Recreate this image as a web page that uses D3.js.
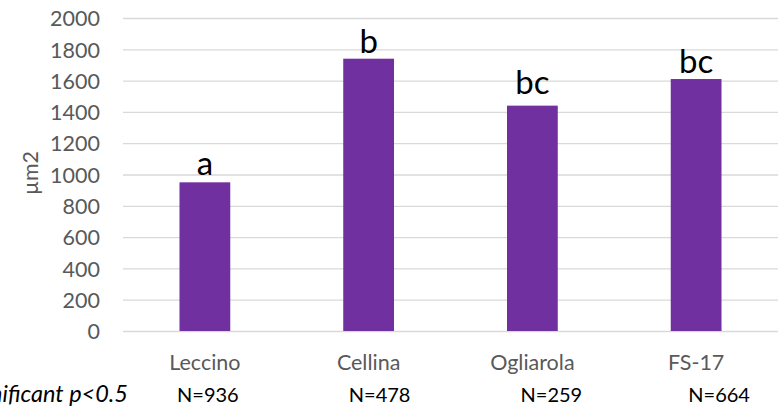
<!DOCTYPE html>
<html>
<head>
<meta charset="utf-8">
<script src="https://cdn.jsdelivr.net/npm/d3@7"></script>
<style>
  html, body { margin: 0; padding: 0; background: #fff; }
  svg { display: block; }
  text { font-family: Lato, "Open Sans", sans-serif; }
</style>
</head>
<body>
<svg id="chart" width="781" height="406"></svg>
<script>
// Mean leaf-cell area per cultivar
const cultivars = ["Leccino", "Cellina", "Ogliarola", "FS-17"];
const areas = [950, 1740, 1440, 1610];
const groupLetters = ["a", "b", "bc", "bc"];
const sampleSizes = ["N=936", "N=478", "N=259", "N=664"];
const yTicks = [0, 200, 400, 600, 800, 1000, 1200, 1400, 1600, 1800, 2000];
const yTitle = "µm2";
const footnote = "Different letters: significant p<0.5";

const plot = { left: 123, right: 778, top: 18, bottom: 331 };
const axisFont = "21.5px";

const svg = d3.select("#chart");

const x = d3.scaleBand()
  .domain(cultivars)
  .range([plot.left, plot.right])
  .paddingInner(0.69)
  .paddingOuter(0.345);

const y = d3.scaleLinear()
  .domain([0, 2000])
  .range([plot.bottom, plot.top]);

// Horizontal gridlines
svg.append("g")
  .selectAll("line")
  .data(yTicks)
  .join("line")
  .attr("x1", plot.left)
  .attr("x2", plot.right)
  .attr("y1", d => y(d) + 0.5)
  .attr("y2", d => y(d) + 0.5)
  .attr("stroke", "#d9d9d9")
  .attr("stroke-width", 1.3);

// Y axis labels
const yAxis = d3.axisLeft(y)
  .tickValues(yTicks)
  .tickFormat(d3.format("d"))
  .tickSize(0)
  .tickPadding(0);
const gy = svg.append("g")
  .attr("transform", `translate(100,0)`)
  .call(yAxis);
gy.select(".domain").remove();
gy.selectAll("text")
  .attr("fill", "#595959")
  .style("font-size", axisFont)
  .style("font-family", "Lato, sans-serif")
  .attr("dy", "0.36em");

// Y axis title
svg.append("text")
  .attr("transform", `translate(38,173) rotate(-90)`)
  .attr("text-anchor", "middle")
  .attr("fill", "#595959")
  .style("font-size", axisFont)
  .text(yTitle);

// Bars
svg.append("g")
  .selectAll("rect")
  .data(cultivars)
  .join("rect")
  .attr("x", d => x(d))
  .attr("width", x.bandwidth())
  .attr("y", (d, i) => y(areas[i]))
  .attr("height", (d, i) => y(0) - y(areas[i]))
  .attr("fill", "#7030a0");

// Significance letters above bars
const lift = [7, 6, 12, 6];
svg.append("g")
  .selectAll("text")
  .data(cultivars)
  .join("text")
  .attr("x", d => x(d) + x.bandwidth() / 2)
  .attr("y", (d, i) => y(areas[i]) - lift[i])
  .attr("text-anchor", "middle")
  .attr("fill", "#000")
  .style("font-size", "33px")
  .text((d, i) => groupLetters[i]);

// Category labels
const gx = svg.append("g")
  .attr("transform", `translate(0,${plot.bottom})`)
  .call(d3.axisBottom(x).tickSize(0).tickPadding(0));
gx.select(".domain").remove();
gx.selectAll("text")
  .attr("y", 39)
  .attr("dy", 0)
  .attr("fill", "#595959")
  .style("font-size", axisFont)
  .style("font-family", "Lato, sans-serif");

// Sample sizes under each category
const nShift = [3, 11, 19, 23];
svg.append("g")
  .selectAll("text")
  .data(cultivars)
  .join("text")
  .attr("x", (d, i) => x(d) + x.bandwidth() / 2 + nShift[i])
  .attr("y", 401.5)
  .attr("text-anchor", "middle")
  .attr("fill", "#000")
  .style("font-size", "20px")
  .text((d, i) => sampleSizes[i]);

// Footnote, running off the left edge
svg.append("text")
  .attr("x", 128)
  .attr("y", 401.5)
  .attr("text-anchor", "end")
  .attr("fill", "#000")
  .style("font-size", "23.5px")
  .style("font-style", "italic")
  .text(footnote);
</script>
</body>
</html>
